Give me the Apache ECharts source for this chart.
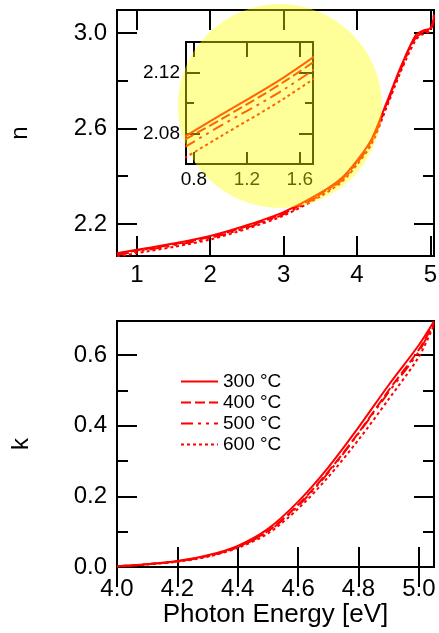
<!DOCTYPE html>
<html>
<head>
<meta charset="utf-8">
<script src="https://cdn.jsdelivr.net/npm/echarts@6/dist/echarts.min.js"></script>
<style>
  html, body { margin: 0; padding: 0; background: #fff; }
  #chart { width: 439px; height: 633px; }
</style>
</head>
<body>
<div id="chart"></div>
<script>
// refractive index n vs photon energy
const nEnergy = [0.73, 1.0, 1.5, 2.0, 2.5, 3.0, 3.5, 3.8, 4.0, 4.2, 4.4, 4.6, 4.8, 4.9, 5.0, 5.05];
const n300 = [2.078, 2.092, 2.118, 2.150, 2.195, 2.250, 2.330, 2.395, 2.465, 2.555, 2.705, 2.860, 2.990, 3.010, 3.020, 3.060];
const n400 = [2.076, 2.089, 2.115, 2.146, 2.190, 2.245, 2.325, 2.390, 2.460, 2.550, 2.700, 2.855, 2.985, 3.005, 3.015, 3.050];
const n500 = [2.071, 2.085, 2.110, 2.141, 2.185, 2.240, 2.320, 2.385, 2.455, 2.545, 2.695, 2.850, 2.980, 3.000, 3.012, 3.070];
const n600 = [2.064, 2.078, 2.104, 2.135, 2.180, 2.235, 2.315, 2.378, 2.448, 2.535, 2.685, 2.840, 2.970, 2.995, 3.010, 3.080];

// extinction coefficient k vs photon energy
const kEnergy = [4.0, 4.1, 4.2, 4.3, 4.4, 4.5, 4.6, 4.7, 4.8, 4.9, 5.0, 5.05];
const k300 = [0.002, 0.008, 0.017, 0.033, 0.060, 0.108, 0.185, 0.282, 0.395, 0.515, 0.628, 0.695];
const k400 = [0.002, 0.008, 0.016, 0.031, 0.057, 0.102, 0.176, 0.270, 0.380, 0.500, 0.615, 0.690];
const k500 = [0.002, 0.008, 0.016, 0.031, 0.056, 0.100, 0.173, 0.267, 0.378, 0.495, 0.610, 0.690];
const k600 = [0.002, 0.007, 0.015, 0.029, 0.054, 0.095, 0.165, 0.255, 0.360, 0.475, 0.595, 0.685];

const seriesNames = ['300 °C', '400 °C', '500 °C', '600 °C'];

// ticks
const nXTicks = [1, 2, 3, 4, 5];
const nYMajor = [2.2, 2.6, 3.0];
const nYMinor = [2.4, 2.8];
const kXTicks = [4.0, 4.2, 4.4, 4.6, 4.8, 5.0];
const kYMajor = [0.0, 0.2, 0.4, 0.6];
const kYMinor = [0.1, 0.3, 0.5];
const insetXTicks = [0.8, 1.2, 1.6];
const insetYMajor = [2.08, 2.12];
const insetYMinor = [2.10];

// highlighted zone (centre of the yellow disc, in n-plot units)
const highlight = [[2.95, 2.694]];

const dashes = ['solid', [10, 4], [12, 5, 3, 5, 3, 5], [3, 3]];
const font = 'Liberation Sans, Arial, sans-serif';

const pair = (xs, ys) => xs.map((x, i) => [x, ys[i]]);
const nData = [n300, n400, n500, n600].map(ys => pair(nEnergy, ys));
const kData = [k300, k400, k500, k600].map(ys => pair(kEnergy, ys));

const chart = echarts.init(document.getElementById('chart'));

// one axis: labels optional, ticks at given values
const axis = (o) => ({
  type: 'value',
  gridIndex: o.grid,
  position: o.pos,
  min: o.min,
  max: o.max,
  name: o.name || '',
  nameLocation: 'middle',
  nameGap: o.nameGap || 0,
  nameTextStyle: { color: '#000', fontSize: o.nameSize || 24, fontFamily: font },
  axisLine: { show: false },
  splitLine: { show: false },
  axisTick: {
    show: true,
    inside: true,
    length: o.tickLen,
    customValues: o.ticks,
    lineStyle: { color: '#000', width: 2 }
  },
  axisLabel: o.labels ? {
    show: true,
    customValues: o.ticks,
    margin: o.margin,
    color: '#000',
    fontSize: o.fontSize || 24,
    fontFamily: font,
    formatter: o.fmt
  } : { show: false }
});

const fmt1 = v => v.toFixed(1);
const fmt2 = v => v.toFixed(2);

const xAxes = [
  // n plot
  axis({ grid: 0, pos: 'bottom', min: 0.73, max: 5.05, ticks: nXTicks, tickLen: 20, labels: true, margin: 7, fmt: v => String(v) }),
  axis({ grid: 0, pos: 'top', min: 0.73, max: 5.05, ticks: nXTicks, tickLen: 20 }),
  // k plot
  axis({ grid: 1, pos: 'bottom', min: 4.0, max: 5.05, ticks: kXTicks, tickLen: 20, labels: true, margin: 10, fmt: fmt1,
         name: 'Photon Energy [eV]', nameGap: 32, nameSize: 26 }),
  axis({ grid: 1, pos: 'top', min: 4.0, max: 5.05, ticks: kXTicks, tickLen: 20 }),
  // inset
  axis({ grid: 2, pos: 'bottom', min: 0.74, max: 1.70, ticks: insetXTicks, tickLen: 12, labels: true, margin: 6, fontSize: 19, fmt: fmt1 }),
  axis({ grid: 2, pos: 'top', min: 0.74, max: 1.70, ticks: insetXTicks, tickLen: 15 })
];

const yAxes = [
  // n plot
  axis({ grid: 0, pos: 'left', min: 2.066, max: 3.096, ticks: nYMajor, tickLen: 20, labels: true, margin: 10, fmt: fmt1,
         name: 'n', nameGap: 85 }),
  axis({ grid: 0, pos: 'left', min: 2.066, max: 3.096, ticks: nYMinor, tickLen: 11 }),
  axis({ grid: 0, pos: 'right', min: 2.066, max: 3.096, ticks: nYMajor, tickLen: 20 }),
  axis({ grid: 0, pos: 'right', min: 2.066, max: 3.096, ticks: nYMinor, tickLen: 11 }),
  // k plot
  axis({ grid: 1, pos: 'left', min: 0, max: 0.696, ticks: kYMajor, tickLen: 20, labels: true, margin: 10, fmt: fmt1,
         name: 'k', nameGap: 84 }),
  axis({ grid: 1, pos: 'left', min: 0, max: 0.696, ticks: kYMinor, tickLen: 11 }),
  axis({ grid: 1, pos: 'right', min: 0, max: 0.696, ticks: kYMajor, tickLen: 20 }),
  axis({ grid: 1, pos: 'right', min: 0, max: 0.696, ticks: kYMinor, tickLen: 11 }),
  // inset
  axis({ grid: 2, pos: 'left', min: 2.06, max: 2.14, ticks: insetYMajor, tickLen: 14, labels: true, margin: 6, fontSize: 19, fmt: fmt2 }),
  axis({ grid: 2, pos: 'left', min: 2.06, max: 2.14, ticks: insetYMinor, tickLen: 8 }),
  axis({ grid: 2, pos: 'right', min: 2.06, max: 2.14, ticks: insetYMajor, tickLen: 14 }),
  axis({ grid: 2, pos: 'right', min: 2.06, max: 2.14, ticks: insetYMinor, tickLen: 8 })
];

const lineSeries = (data, xi, yi) => data.map((d, i) => ({
  name: seriesNames[i],
  type: 'line',
  xAxisIndex: xi,
  yAxisIndex: yi,
  data: d,
  smooth: 0.3,
  symbol: 'none',
  silent: true,
  z: 3,
  lineStyle: { color: '#ff0000', width: 2, type: dashes[i] },
  itemStyle: { color: '#ff0000' }
}));

const frame = { show: true, borderColor: '#000', borderWidth: 2, backgroundColor: 'transparent', outerBoundsMode: 'none', containLabel: false };

chart.setOption({
  animation: false,
  backgroundColor: '#fff',
  grid: [
    Object.assign({ left: 117, top: 10, width: 317, height: 246 }, frame),
    Object.assign({ left: 117, top: 321, width: 317, height: 246 }, frame),
    Object.assign({ left: 186, top: 42, width: 127, height: 122 }, frame)
  ],
  legend: {
    data: seriesNames,
    orient: 'vertical',
    left: 180,
    top: 372,
    padding: 0,
    itemWidth: 37,
    itemHeight: 14,
    itemGap: 2,
    selectedMode: false,
    itemStyle: { opacity: 0 },
    textStyle: { color: '#000', fontSize: 19, lineHeight: 19, fontFamily: font }
  },
  xAxis: xAxes,
  yAxis: yAxes,
  series: [
    ...lineSeries(nData, 0, 0),
    ...lineSeries(nData, 4, 8),
    ...lineSeries(kData, 2, 4),
    {
      type: 'scatter',
      xAxisIndex: 0,
      yAxisIndex: 0,
      data: highlight,
      symbol: 'circle',
      symbolSize: 204,
      clip: false,
      silent: true,
      z: 20,
      itemStyle: { color: 'rgba(255, 255, 0, 0.5)' }
    }
  ]
});
</script>
</body>
</html>
